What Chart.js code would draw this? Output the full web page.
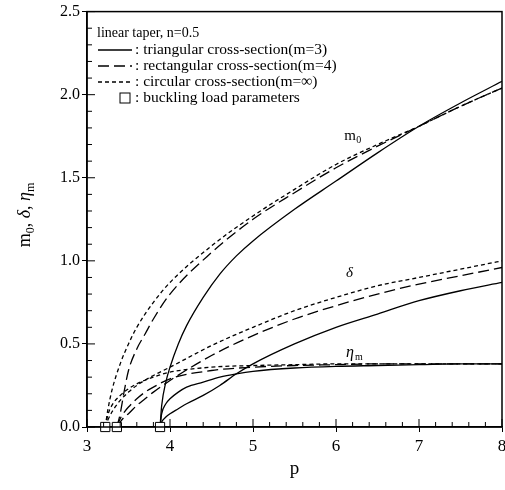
<!DOCTYPE html>
<html>
<head>
<style>
  body { margin: 0; background: #fff; }
  #chart { display: block; }
</style>
<script src="https://cdn.jsdelivr.net/npm/chart.js"></script>
</head>
<body>
<canvas id="chart" width="505" height="490"></canvas>
<script>
// load parameter p for each cross-section (first value = buckling load)
const pTri  = [3.88, 3.9, 3.95, 4.0, 4.1, 4.2, 4.4, 4.6, 4.8, 5.0, 5.5, 6.0, 6.5, 7.0, 7.5, 8.0];
const pRect = [3.36, 3.4, 3.45, 3.5, 3.6, 3.7, 3.8, 4.0, 4.5, 5.0, 5.5, 6.0, 6.5, 7.0, 7.5, 8.0];
const pCirc = [3.22, 3.25, 3.3, 3.4, 3.5, 3.6, 3.8, 4.0, 4.5, 5.0, 5.5, 6.0, 6.5, 7.0, 7.5, 8.0];

// triangular cross-section (m=3)
const m0Tri    = [0, 0.13, 0.27, 0.36, 0.50, 0.61, 0.78, 0.92, 1.03, 1.12, 1.31, 1.48, 1.65, 1.81, 1.95, 2.08];
const deltaTri = [0, 0.03, 0.06, 0.08, 0.11, 0.14, 0.19, 0.25, 0.32, 0.38, 0.50, 0.60, 0.68, 0.76, 0.82, 0.87];
const etaTri   = [0, 0.08, 0.14, 0.17, 0.21, 0.24, 0.27, 0.30, 0.32, 0.335, 0.355, 0.365, 0.37, 0.375, 0.38, 0.38];

// rectangular cross-section (m=4)
const m0Rect    = [0, 0.08, 0.22, 0.34, 0.47, 0.56, 0.65, 0.80, 1.05, 1.25, 1.41, 1.56, 1.69, 1.81, 1.93, 2.04];
const deltaRect = [0, 0.03, 0.06, 0.08, 0.13, 0.17, 0.21, 0.28, 0.43, 0.55, 0.65, 0.73, 0.80, 0.86, 0.91, 0.96];
const etaRect   = [0, 0.05, 0.09, 0.12, 0.17, 0.21, 0.24, 0.29, 0.34, 0.36, 0.37, 0.375, 0.38, 0.38, 0.38, 0.38];

// circular cross-section (m=inf)
const m0Circ    = [0, 0.10, 0.22, 0.38, 0.50, 0.60, 0.75, 0.87, 1.09, 1.27, 1.43, 1.58, 1.70, 1.81, 1.93, 2.04];
const deltaCirc = [0, 0.04, 0.09, 0.16, 0.21, 0.25, 0.31, 0.36, 0.49, 0.60, 0.70, 0.78, 0.85, 0.90, 0.95, 1.00];
const etaCirc   = [0, 0.07, 0.13, 0.19, 0.23, 0.26, 0.30, 0.33, 0.36, 0.37, 0.375, 0.38, 0.38, 0.38, 0.38, 0.38];

// buckling load parameters
const bucklingP = [3.22, 3.36, 3.88];
const bucklingY = [0, 0, 0];

// axis tick labels
const xTicks = [3, 4, 5, 6, 7, 8];
const xMin = 3, xMax = 8, yMin = 0, yMax = 2.5;

const SERIF = '"Liberation Serif", "DejaVu Serif", serif';
const SOLID = [], DASH = [11, 5], DOT = [4, 3];

function pts(xs, ys) {
  return xs.map((x, i) => ({ x: x, y: ys[i] }));
}

function curve(xs, ys, dash) {
  return {
    data: pts(xs, ys),
    showLine: true,
    borderColor: '#000',
    borderWidth: 1.3,
    borderDash: dash,
    pointRadius: 0,
    fill: false,
    cubicInterpolationMode: 'monotone'
  };
}

const datasets = [
  {
    data: pts(bucklingP, bucklingY),
    showLine: false,
    pointStyle: 'rect',
    pointRadius: 6.5,
    pointBackgroundColor: '#fff',
    pointBorderColor: '#000',
    pointBorderWidth: 1,
    clip: false
  },
  curve(pTri, m0Tri, SOLID), curve(pTri, deltaTri, SOLID), curve(pTri, etaTri, SOLID),
  curve(pRect, m0Rect, DASH), curve(pRect, deltaRect, DASH), curve(pRect, etaRect, DASH),
  curve(pCirc, m0Circ, DOT), curve(pCirc, deltaCirc, DOT), curve(pCirc, etaCirc, DOT)
];

// frame, inner ticks, x labels, legend, curve labels
const decor = {
  id: 'decor',
  afterDraw(chart) {
    const ctx = chart.ctx;
    const a = chart.chartArea;
    const xs = chart.scales.x, ys = chart.scales.y;
    ctx.save();
    ctx.strokeStyle = '#000';
    ctx.fillStyle = '#000';
    ctx.lineWidth = 1.5;
    ctx.strokeRect(a.left, a.top, a.right - a.left, a.bottom - a.top);

    // inner ticks
    ctx.lineWidth = 1;
    ctx.beginPath();
    for (let i = 0; i <= 25; i++) {
      const v = xMin + i * 0.2;
      const px = xs.getPixelForValue(v);
      const len = (i % 5 === 0) ? 8 : 5;
      ctx.moveTo(px, a.bottom); ctx.lineTo(px, a.bottom - len);
    }
    for (let i = 0; i <= 25; i++) {
      const v = yMin + i * 0.1;
      const py = ys.getPixelForValue(v);
      const len = (i % 5 === 0) ? 8 : 5;
      ctx.moveTo(a.left, py); ctx.lineTo(a.left + len, py);
    }
    ctx.stroke();

    // x tick labels and title
    ctx.textAlign = 'center';
    ctx.textBaseline = 'middle';
    ctx.font = '17px ' + SERIF;
    xTicks.forEach(v => ctx.fillText(String(v), xs.getPixelForValue(v), a.bottom + 20));
    ctx.font = '19px ' + SERIF;
    ctx.fillText('p', (a.left + a.right) / 2, a.bottom + 42);

    // legend
    const lx = a.left + 10, tx = lx + 38;
    ctx.textAlign = 'left';
    ctx.font = '14px ' + SERIF;
    ctx.fillText('linear taper, n=0.5', lx, 33);
    ctx.font = '15.5px ' + SERIF;
    const rows = [
      [SOLID, ': triangular cross-section(m=3)', 50],
      [DASH, ': rectangular cross-section(m=4)', 66],
      [DOT, ': circular cross-section(m=\u221e)', 82]
    ];
    ctx.lineWidth = 1.3;
    rows.forEach(r => {
      ctx.setLineDash(r[0]);
      ctx.beginPath();
      ctx.moveTo(lx + 1, r[2]); ctx.lineTo(tx - 3, r[2]);
      ctx.stroke();
      ctx.setLineDash([]);
      ctx.fillText(r[1], tx, r[2]);
    });
    ctx.lineWidth = 1;
    ctx.strokeRect(tx - 15, 93, 10, 10);
    ctx.fillText(': buckling load parameters', tx, 98);

    // curve labels
    ctx.font = '15px ' + SERIF;
    ctx.textBaseline = 'alphabetic';
    let px = xs.getPixelForValue(6.1), py = ys.getPixelForValue(1.73);
    ctx.fillText('m', px, py);
    ctx.font = '10px ' + SERIF;
    ctx.fillText('0', px + 12, py + 3);
    ctx.font = 'italic 15px ' + SERIF;
    ctx.fillText('\u03b4', xs.getPixelForValue(6.12), ys.getPixelForValue(0.9));
    ctx.font = 'italic 16px ' + SERIF;
    px = xs.getPixelForValue(6.12); py = ys.getPixelForValue(0.42);
    ctx.fillText('\u03b7', px, py);
    ctx.font = '10px ' + SERIF;
    ctx.fillText('m', px + 9, py + 3);

    // y-axis title
    ctx.translate(24, 215);
    ctx.rotate(-Math.PI / 2);
    ctx.textAlign = 'left';
    const parts = [
      ['m', '18px ', 0], ['0', '12px ', 4], [', ', '18px ', 0],
      ['\u03b4', 'italic 18px ', 0], [', ', '18px ', 0],
      ['\u03b7', 'italic 18px ', 0], ['m', '12px ', 4]
    ];
    let w = 0;
    parts.forEach(p => { ctx.font = p[1] + SERIF; w += ctx.measureText(p[0]).width; });
    let cx = -w / 2;
    parts.forEach(p => {
      ctx.font = p[1] + SERIF;
      ctx.fillText(p[0], cx, 6 + p[2]);
      cx += ctx.measureText(p[0]).width;
    });
    ctx.restore();
  }
};

new Chart(document.getElementById('chart').getContext('2d'), {
  type: 'scatter',
  data: { datasets: datasets },
  options: {
    responsive: false,
    animation: false,
    layout: { autoPadding: false, padding: { top: 11, right: 3, left: 0, bottom: 0 } },
    plugins: { legend: { display: false }, tooltip: { enabled: false } },
    scales: {
      x: {
        type: 'linear', min: xMin, max: xMax,
        grid: { display: true, drawOnChartArea: false, drawTicks: true, tickLength: 5, color: '#000' },
        border: { display: true, color: '#000', width: 1.5 },
        ticks: { display: false, stepSize: 1 },
        afterFit(s) { s.height = 63; }
      },
      y: {
        type: 'linear', min: yMin, max: yMax,
        grid: { display: true, drawOnChartArea: false, drawTicks: true, tickLength: 5, color: '#000' },
        border: { display: true, color: '#000', width: 1.5 },
        ticks: { stepSize: 0.5, color: '#000', font: { family: SERIF, size: 16 }, padding: 2,
                 callback: v => v.toFixed(1) },
        afterFit(s) { s.width = 87; }
      }
    }
  },
  plugins: [decor]
});
</script>
</body>
</html>
